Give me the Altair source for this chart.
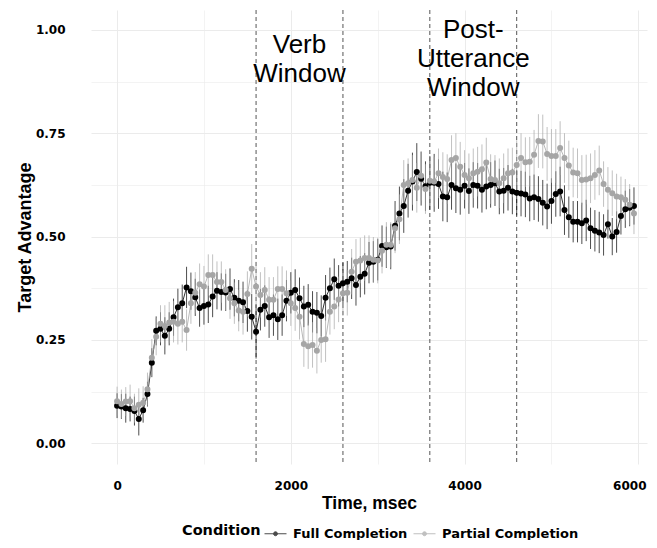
import altair as alt
import pandas as pd

# ---- data ----
times = list(range(0, 6000, 50))  # 50 ms bins, 0 .. 5950

full_mean = [
    0.091, 0.089, 0.085, 0.083, 0.078, 0.059, 0.080, 0.119, 0.195, 0.272,
    0.277, 0.260, 0.277, 0.305, 0.329, 0.339, 0.377, 0.368, 0.353, 0.327,
    0.332, 0.336, 0.355, 0.369, 0.366, 0.365, 0.373, 0.352, 0.345, 0.341,
    0.320, 0.306, 0.270, 0.323, 0.332, 0.305, 0.310, 0.300, 0.310, 0.345,
    0.364, 0.371, 0.351, 0.331, 0.335, 0.318, 0.316, 0.308, 0.352, 0.375,
    0.397, 0.381, 0.387, 0.391, 0.399, 0.383, 0.403, 0.410, 0.437, 0.439,
    0.444, 0.477, 0.474, 0.476, 0.526, 0.556, 0.574, 0.611, 0.633, 0.656,
    0.640, 0.622, 0.630, 0.630, 0.627, 0.597, 0.595, 0.625, 0.617, 0.613,
    0.623, 0.610, 0.625, 0.623, 0.613, 0.621, 0.625, 0.629, 0.609, 0.611,
    0.618, 0.609, 0.606, 0.604, 0.602, 0.592, 0.595, 0.591, 0.582, 0.573,
    0.586, 0.603, 0.609, 0.564, 0.547, 0.536, 0.536, 0.532, 0.539, 0.520,
    0.514, 0.510, 0.504, 0.530, 0.500, 0.511, 0.550, 0.566, 0.570, 0.574,
]

partial_mean = [
    0.102, 0.095, 0.101, 0.102, 0.085, 0.093, 0.098, 0.131, 0.207, 0.258,
    0.289, 0.284, 0.292, 0.294, 0.289, 0.294, 0.274, 0.339, 0.364, 0.385,
    0.379, 0.407, 0.407, 0.390, 0.390, 0.371, 0.351, 0.339, 0.321, 0.318,
    0.361, 0.422, 0.379, 0.359, 0.371, 0.347, 0.347, 0.373, 0.373, 0.363,
    0.339, 0.327, 0.306, 0.240, 0.235, 0.238, 0.224, 0.250, 0.252, 0.318,
    0.331, 0.348, 0.363, 0.364, 0.415, 0.439, 0.442, 0.448, 0.448, 0.444,
    0.442, 0.466, 0.480, 0.480, 0.520, 0.542, 0.625, 0.629, 0.637, 0.618,
    0.647, 0.615, 0.635, 0.633, 0.653, 0.644, 0.639, 0.685, 0.690, 0.669,
    0.649, 0.641, 0.653, 0.657, 0.663, 0.679, 0.639, 0.637, 0.629, 0.641,
    0.653, 0.655, 0.673, 0.690, 0.680, 0.681, 0.698, 0.731, 0.730, 0.700,
    0.695, 0.695, 0.714, 0.690, 0.672, 0.655, 0.653, 0.637, 0.638, 0.641,
    0.649, 0.660, 0.627, 0.613, 0.605, 0.597, 0.595, 0.589, 0.577, 0.556,
]

full_se = [
    0.030, 0.030, 0.035, 0.030, 0.035, 0.040, 0.030, 0.030, 0.035, 0.035,
    0.040, 0.045, 0.040, 0.045, 0.045, 0.045, 0.050, 0.045, 0.045, 0.045,
    0.045, 0.045, 0.050, 0.045, 0.045, 0.045, 0.050, 0.045, 0.050, 0.050,
    0.050, 0.055, 0.065, 0.050, 0.050, 0.050, 0.050, 0.050, 0.050, 0.050,
    0.050, 0.050, 0.050, 0.050, 0.050, 0.050, 0.050, 0.050, 0.055, 0.050,
    0.050, 0.050, 0.050, 0.050, 0.050, 0.050, 0.050, 0.050, 0.050, 0.050,
    0.050, 0.050, 0.050, 0.055, 0.060, 0.065, 0.065, 0.065, 0.070, 0.070,
    0.065, 0.060, 0.065, 0.070, 0.060, 0.060, 0.060, 0.060, 0.060, 0.060,
    0.055, 0.055, 0.055, 0.055, 0.055, 0.055, 0.055, 0.055, 0.055, 0.055,
    0.055, 0.055, 0.055, 0.055, 0.055, 0.055, 0.055, 0.055, 0.055, 0.055,
    0.055, 0.055, 0.060, 0.060, 0.050, 0.050, 0.050, 0.050, 0.050, 0.050,
    0.050, 0.050, 0.050, 0.035, 0.045, 0.050, 0.045, 0.045, 0.045, 0.045,
]

partial_se = [
    0.035, 0.035, 0.035, 0.040, 0.035, 0.040, 0.040, 0.040, 0.045, 0.045,
    0.045, 0.050, 0.050, 0.050, 0.050, 0.050, 0.050, 0.050, 0.050, 0.050,
    0.050, 0.050, 0.050, 0.050, 0.050, 0.050, 0.050, 0.050, 0.050, 0.055,
    0.055, 0.060, 0.060, 0.055, 0.055, 0.055, 0.055, 0.055, 0.055, 0.055,
    0.055, 0.055, 0.055, 0.055, 0.055, 0.055, 0.055, 0.055, 0.055, 0.055,
    0.055, 0.055, 0.055, 0.055, 0.055, 0.055, 0.055, 0.055, 0.055, 0.055,
    0.055, 0.055, 0.055, 0.055, 0.060, 0.060, 0.060, 0.060, 0.060, 0.060,
    0.060, 0.060, 0.060, 0.060, 0.060, 0.060, 0.060, 0.060, 0.060, 0.060,
    0.060, 0.060, 0.060, 0.060, 0.060, 0.060, 0.060, 0.060, 0.060, 0.060,
    0.060, 0.060, 0.060, 0.060, 0.060, 0.060, 0.060, 0.065, 0.065, 0.065,
    0.065, 0.065, 0.065, 0.060, 0.060, 0.060, 0.060, 0.060, 0.060, 0.060,
    0.060, 0.060, 0.055, 0.055, 0.055, 0.055, 0.050, 0.050, 0.050, 0.050,
]

conditions = ["Full Completion", "Partial Completion"]
cond_colors = ["#000000", "#a6a6a6"]

window_bounds = [1600, 2600, 3600, 4600]
window_labels = ["Verb\nWindow", "Post-\nUtterance\nWindow"]
label_x = [2100, 4100]
label_y = [0.996, 1.030]

x_ticks = [0, 1000, 2000, 3000, 4000, 5000, 6000]
y_ticks = [0, 0.125, 0.25, 0.375, 0.5, 0.625, 0.75, 0.875, 1.0]

# ---- tables ----
rows = []
for cond, means, ses in [(conditions[0], full_mean, full_se),
                         (conditions[1], partial_mean, partial_se)]:
    for t, m, s in zip(times, means, ses):
        rows.append({"time": t, "cond": cond, "mean": m, "lo": m - s, "hi": m + s})
df = pd.DataFrame(rows)

rules_df = pd.DataFrame({"time": window_bounds})
labels_df = pd.DataFrame({"time": label_x, "mean": label_y, "label": window_labels})

# ---- scales / axes ----
xscale = alt.Scale(domain=[-300, 6100], nice=False, zero=False)
yscale = alt.Scale(domain=[-0.050, 1.048], nice=False, zero=False)

grid_w_x = {"condition": {"test": "datum.value % 2000 === 0", "value": 1}, "value": 0.6}
grid_w_y = {"condition": {"test": "datum.value % 0.25 === 0", "value": 1}, "value": 0.6}
last_label_shift = {"condition": {"test": "datum.value === 6000", "value": -9}, "value": 0}

x_axis = alt.Axis(
    values=x_ticks, format="d",
    labelExpr="datum.value % 2000 === 0 ? datum.label : ''",
    ticks=False, domain=False, labelFlush=False, labelOverlap=False,
    labelFont="DejaVu Sans", labelFontWeight="bold", labelFontSize=12,
    labelColor="black", labelPadding=16, labelOffset=last_label_shift,
    titleFont="Liberation Sans", titleFontSize=17.5, titleFontWeight="bold",
    titleColor="black", titlePadding=3,
    gridColor="#ebebeb", gridWidth=grid_w_x,
)
y_axis = alt.Axis(
    values=y_ticks, format=".2f",
    labelExpr="datum.value % 0.25 === 0 ? datum.label : ''",
    ticks=False, domain=False, labelFlush=False, labelOverlap=False,
    labelFont="DejaVu Sans", labelFontWeight="bold", labelFontSize=12,
    labelColor="black", labelPadding=26,
    titleFont="Liberation Sans", titleFontSize=18, titleFontWeight="bold",
    titleColor="black", titlePadding=1,
    gridColor="#ebebeb", gridWidth=grid_w_y,
)

X = alt.X("time:Q", scale=xscale, axis=x_axis, title="Time, msec")
Y_mean = alt.Y("mean:Q", scale=yscale, axis=y_axis, title="Target Advantage")

cscale = alt.Scale(domain=conditions, range=cond_colors)

legend = alt.Legend(
    orient="none", legendX=91, legendY=512, direction="horizontal",
    titleOrient="left", title="Condition", padding=0,
    titleFont="DejaVu Sans", titleFontSize=14.5, titleFontWeight="bold",
    titleColor="black", titlePadding=3,
    labelFont="DejaVu Sans", labelFontSize=13, labelFontWeight="bold",
    labelColor="black",
    symbolType="M-1,0L1,0M0.18,0A0.18,0.18,0,1,1,-0.18,0A0.18,0.18,0,1,1,0.18,0",
    symbolSize=484, symbolStrokeWidth=1, labelOffset=6, columnPadding=3,
)

bars = alt.Chart(df).mark_rule(strokeWidth=1, opacity=0.7).encode(
    x=X,
    y=alt.Y("lo:Q", scale=yscale, axis=y_axis, title="Target Advantage"),
    y2="hi:Q",
    stroke=alt.Stroke("cond:N", scale=cscale, legend=legend),
)

lines = alt.Chart(df).mark_line(strokeWidth=0.8).encode(
    x=X, y=Y_mean,
    stroke=alt.Stroke("cond:N", scale=cscale, legend=legend),
    detail="cond:N",
)

points = alt.Chart(df).mark_point(filled=True, size=16, opacity=1).encode(
    x=X, y=Y_mean,
    fill=alt.Fill("cond:N", scale=cscale, legend=legend),
    stroke=alt.Stroke("cond:N", scale=cscale, legend=legend),
)

vlines = alt.Chart(rules_df).mark_rule(
    stroke="#555555", strokeDash=[4, 3], strokeWidth=1
).encode(x=X)

texts = alt.Chart(labels_df).mark_text(
    font="Liberation Sans", fontSize=26, lineBreak="\n", lineHeight=29,
    align="center", baseline="top", color="black"
).encode(x=X, y=Y_mean, text="label:N")

chart = alt.layer(vlines, bars, lines, points, texts).properties(
    width=556, height=454,
    padding={"left": 83, "top": 2, "right": 2, "bottom": 76},
    autosize=alt.AutoSizeParams(type="none"),
    background="white",
).configure_view(stroke=None)

chart.save("out.html", embed_options={"renderer": "svg", "actions": False})
